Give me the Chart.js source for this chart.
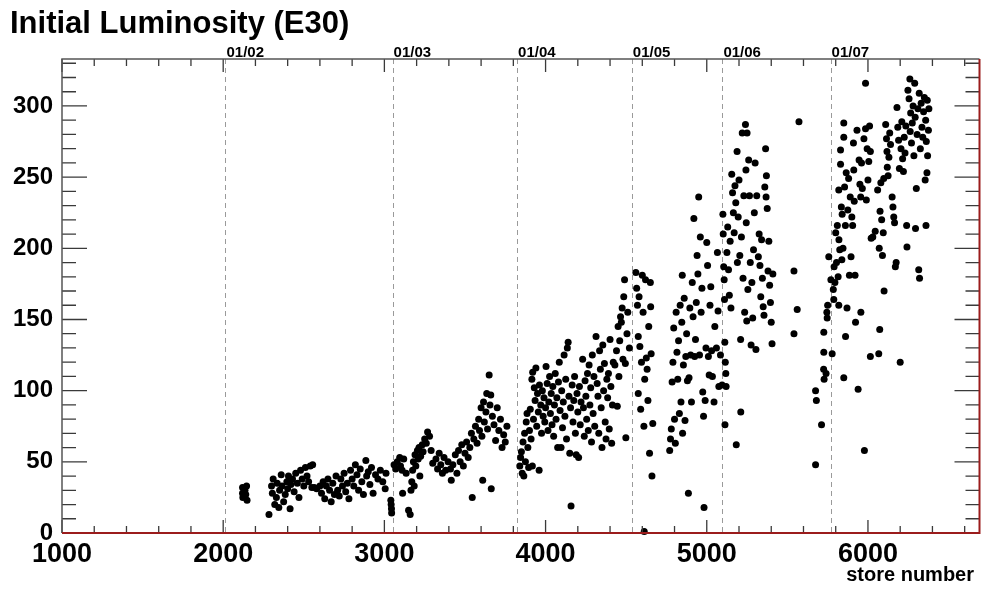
<!DOCTYPE html>
<html>
<head>
<meta charset="utf-8">
<script src="https://cdn.jsdelivr.net/npm/chart.js@4/dist/chart.umd.min.js"></script>
<style>
  html, body { margin: 0; padding: 0; background: #fff; }
  canvas { display: block; }
</style>
</head>
<body>
<canvas id="lumChart" width="983" height="590"></canvas>
<script>
// store number / initial luminosity pairs, grouped by period
const run2002 = [
  [2120,32],[2120,28],[2122,25],[2135,30],[2140,27],[2145,33],[2148,23],[2130,31],
  [2284,13],[2300,33],[2305,28],[2310,38],[2320,20],[2330,25],[2335,35],[2345,18],[2350,30],[2360,41],
  [2365,33],[2375,22],[2385,27],[2395,36],[2400,31],[2405,40],[2415,17],[2420,34],[2430,38],[2440,29],
  [2450,42],[2460,35],[2470,25],[2480,44],[2490,38],[2500,33],[2510,46],[2520,40],[2530,36],[2540,47],
  [2550,32],[2555,48],[2565,32],[2580,31],[2600,33],[2610,28],[2620,36],[2630,24],[2640,33],[2650,38],
  [2660,30],[2670,22],[2680,35],[2690,27],[2700,40],[2710,30],[2720,26],[2730,38],[2740,33],[2750,42],
  [2760,29],[2770,35],[2780,24],[2790,44],[2800,38],[2810,33],[2820,48],[2830,41],[2840,30],[2850,45],
  [2860,36],[2870,27],[2885,51],[2890,40],[2900,43],[2910,34],[2920,46],[2930,28],[2945,41],[2960,38],
  [2975,44],[2990,36],[3005,31],[3010,42],[3040,23],[3042,20],[3044,17],[3045,14]
];
const run2003 = [
  [3060,48],[3070,45],[3080,50],[3095,53],[3100,47],[3110,44],[3113,28],[3120,52],[3135,42],[3150,16],
  [3160,13],[3165,30],[3170,36],[3175,44],[3180,50],[3185,33],[3190,55],[3195,47],[3205,58],[3210,52],
  [3215,60],[3220,40],[3225,54],[3235,62],[3240,57],[3250,66],[3260,63],[3268,71],[3280,68],[3290,58],
  [3300,49],[3320,52],[3330,45],[3340,56],[3350,48],[3360,42],[3370,53],[3380,44],[3395,50],[3410,45],
  [3415,37],[3425,48],[3440,55],[3450,42],[3460,58],[3470,50],[3480,62],[3490,47],[3500,56],[3510,64],
  [3520,53],[3530,60],[3540,70],[3545,25],[3555,66],[3565,75],[3575,63],[3585,80],[3590,72],[3600,88],
  [3605,68],[3610,37],[3615,92],[3620,78],[3630,85],[3635,98],[3640,73],[3650,111],[3655,90],[3660,97],
  [3663,31],[3670,82],[3680,76],[3690,65],[3700,88],[3710,72],[3720,80],[3730,60],[3740,69],[3750,64],
  [3760,75]
];
const run2004 = [
  [3840,47],[3845,53],[3850,57],[3855,42],[3860,64],[3865,40],[3870,70],[3875,50],[3880,78],[3885,84],
  [3890,60],[3895,46],[3900,72],[3905,87],[3910,66],[3915,108],[3918,47],[3920,113],[3925,80],[3930,102],
  [3935,93],[3940,116],[3945,75],[3950,98],[3955,85],[3960,44],[3962,104],[3970,90],[3975,70],[3980,100],
  [3985,82],[3990,95],[3995,78],[4000,88],[4003,117],[4010,105],[4015,72],[4020,92],[4025,110],[4030,84],
  [4035,98],[4040,76],[4045,103],[4050,68],[4055,90],[4060,112],[4065,80],[4070,95],[4075,60],[4080,106],
  [4085,120],[4090,86],[4096,60],[4100,100],[4105,74],[4110,92],[4115,125],[4120,82],[4125,108],[4130,66],
  [4135,130],[4140,134],[4145,96],[4150,56],[4155,88],[4158,19],[4165,104],[4170,78],[4175,93],[4180,110],
  [4185,70],[4190,55],[4195,98],[4200,85],[4205,53],[4210,103],[4215,76],[4220,92],[4230,122],[4235,88],
  [4240,68],[4245,107],[4250,96],[4255,80],[4260,112],[4265,72],[4270,118],[4275,90],[4280,102],[4285,64],
  [4290,125],[4295,84],[4300,110],[4305,75],[4313,138],[4320,105],[4325,96],[4330,70],[4335,128],[4340,115],
  [4345,88],[4350,60],[4355,132],[4360,100],[4365,119],[4370,78],[4375,66],[4380,108],[4385,95],[4390,112],
  [4395,73],[4400,136],[4405,103],[4410,63],[4415,90],[4420,120],[4430,118],[4440,128],[4445,89],[4450,145],
  [4455,110],[4460,135],[4465,152],[4470,148],[4475,158],[4480,122],[4485,166],[4490,178],[4495,119],[4498,67],
  [4505,140],[4510,155],[4520,130]
];
const run2005 = [
  [4560,183],[4565,172],[4570,160],[4575,138],[4575,98],[4580,166],[4585,131],[4590,87],[4595,120],[4600,181],
  [4605,155],[4610,75],[4612,1],[4615,108],[4620,178],[4625,123],[4630,115],[4635,93],[4640,145],[4645,56],
  [4650,176],[4652,159],[4655,126],[4660,40],[4665,77],
  [4770,58],[4775,66],[4780,73],[4785,106],[4790,120],[4795,144],[4800,80],[4805,63],[4810,155],[4815,127],
  [4820,108],[4825,135],[4830,84],[4835,160],[4840,92],[4845,148],[4848,181],[4850,70],[4855,118],[4860,165],
  [4865,79],[4870,124],[4875,140],[4880,107],[4886,28],[4890,109],[4895,158],[4900,125],[4905,92],[4910,176],
  [4915,152],[4920,221],[4925,124],[4930,136],[4935,162],[4940,195],[4945,182],[4950,236],[4955,125],[4960,208],
  [4965,155],[4970,172],[4975,99],[4980,82],[4983,18],[4990,93],[4995,130],[5000,204],[5005,188],[5010,124],
  [5015,111],[5020,160],[5025,173],[5030,128],[5035,110],[5045,92],[5050,145],[5060,130],[5066,197],[5070,156],
  [5075,103],[5085,125],[5095,104]
];
const run2006 = [
  [5100,224],[5102,210],[5105,187],[5108,178],[5110,164],[5112,134],[5115,120],[5118,112],[5120,103],[5113,76],
  [5125,197],[5130,215],[5135,185],[5140,167],[5145,205],[5150,158],[5155,252],[5160,239],[5165,225],[5170,211],
  [5175,244],[5180,232],[5183,62],[5188,268],[5190,190],[5195,222],[5200,248],[5205,195],[5210,136],[5211,85],
  [5215,208],[5220,281],[5225,179],[5230,237],[5235,155],[5240,287],[5243,255],[5245,218],[5248,149],[5250,281],
  [5255,171],[5260,262],[5265,237],[5270,190],[5275,132],[5280,176],[5285,151],[5290,199],[5295,225],[5300,260],
  [5305,129],[5310,237],[5320,194],[5325,210],[5330,188],[5335,166],[5340,206],[5345,179],[5350,159],[5355,153],
  [5360,243],[5365,270],[5368,236],[5370,251],[5375,228],[5380,184],[5385,205],[5390,174],[5395,162],[5400,148],
  [5405,133],[5410,182],[5541,184],[5561,157],[5541,140],[5572,289]
];
const run2007 = [
  [5675,48],[5675,100],[5680,93],[5712,76],[5726,141],[5726,127],[5725,115],[5728,108],[5740,112],[5745,155],
  [5747,151],[5750,160],[5757,194],[5770,178],[5778,126],[5785,171],[5788,164],[5790,187],[5795,176],[5800,211],
  [5805,190],[5810,216],[5815,180],[5819,160],[5819,241],[5820,206],[5825,199],[5830,269],[5830,259],[5835,229],
  [5838,192],[5840,224],[5845,200],[5850,288],[5850,278],[5850,109],[5855,243],[5860,216],[5861,138],[5865,253],
  [5870,158],[5875,227],[5880,249],[5885,181],[5890,236],[5895,194],[5900,222],[5905,216],[5910,274],[5912,255],
  [5915,233],[5920,181],[5923,148],[5932,283],[5939,101],[5945,262],[5950,245],[5955,236],[5956,155],[5960,260],
  [5965,242],[5975,277],[5978,58],[5985,316],[5985,284],[5990,234],[5995,270],[6000,248],[6005,261],[6010,286],
  [6015,124],[6015,268],[6020,207],[6030,208],[6045,212],[6060,241],[6067,126],[6070,200],[6073,143],[6075,226],
  [6080,246],[6085,220],[6090,195],[6095,211],[6098,249],[6100,170],[6110,287],[6115,277],[6118,268],[6120,257],
  [6125,251],[6130,264],[6135,281],[6140,273],[6150,236],[6155,229],[6160,222],[6165,218],[6170,187],[6175,190],
  [6180,299],[6185,285],[6190,276],[6195,256],[6200,120],[6205,270],[6210,289],[6215,263],[6220,254],[6225,278],
  [6230,267],[6235,286],[6240,216],[6242,201],[6248,311],[6255,305],[6260,319],[6262,282],[6265,295],[6270,274],
  [6275,288],[6280,300],[6285,265],[6290,316],[6293,292],[6295,214],[6300,242],[6305,280],[6310,298],[6315,185],
  [6318,309],[6320,179],[6325,270],[6330,302],[6335,285],[6340,278],[6345,296],[6350,306],[6355,248],[6358,290],
  [6360,216],[6362,275],[6366,253],[6368,304],[6370,265],[6375,283],[6378,298]
];

// first store of each new year, and its label
const yearStarts = [2014, 3051, 3823, 4535, 5097, 5768];
const yearLabels = ['01/02', '01/03', '01/04', '01/05', '01/06', '01/07'];

// labelled ticks
const xTicks = [1000, 2000, 3000, 4000, 5000, 6000];
const yTicks = [0, 50, 100, 150, 200, 250, 300];

const xMin = 1000, xMax = 6692;
const yMin = 0, yMax = 333;

const runs = [run2002, run2003, run2004, run2005, run2006, run2007];

// ROOT-like frame, inward ticks, year markers and texts
const rootFrame = {
    id: 'rootFrame',
    beforeDraw(chart) {
        const ctx = chart.ctx;
        ctx.save();
        ctx.fillStyle = '#ffffff';
        ctx.fillRect(0, 0, chart.width, chart.height);
        ctx.restore();
    },
    beforeDatasetsDraw(chart) {
        const { ctx, chartArea: a, scales: { x } } = chart;
        ctx.save();
        ctx.strokeStyle = '#9a9a9a';
        ctx.lineWidth = 1;
        ctx.setLineDash([5, 4]);
        yearStarts.forEach(s => {
            const px = Math.round(x.getPixelForValue(s)) + 0.5;
            ctx.beginPath();
            ctx.moveTo(px, a.top);
            ctx.lineTo(px, a.bottom);
            ctx.stroke();
        });
        ctx.restore();
    },
    afterDatasetsDraw(chart) {
        const { ctx, chartArea: a, scales: { x, y } } = chart;
        ctx.save();
        ctx.strokeStyle = '#3a3a3a';
        ctx.lineWidth = 1.3;
        ctx.beginPath();
        for (let v = 1000; v <= 6600; v += 200) {
            const px = x.getPixelForValue(v);
            const len = v % 1000 === 0 ? 13 : 7;
            ctx.moveTo(px, a.bottom);
            ctx.lineTo(px, a.bottom - len);
            ctx.moveTo(px, a.top);
            ctx.lineTo(px, a.top + len);
        }
        for (let v = 0; v <= 330; v += 10) {
            const py = y.getPixelForValue(v);
            const len = v % 50 === 0 ? 25 : 14;
            ctx.moveTo(a.left, py);
            ctx.lineTo(a.left + len, py);
            ctx.moveTo(a.right, py);
            ctx.lineTo(a.right - len, py);
        }
        ctx.stroke();

        // frame
        ctx.lineWidth = 1.5;
        ctx.strokeStyle = '#555555';
        ctx.beginPath();
        ctx.moveTo(a.left, a.bottom);
        ctx.lineTo(a.left, a.top);
        ctx.lineTo(a.right, a.top);
        ctx.stroke();
        ctx.lineWidth = 2;
        ctx.strokeStyle = '#9b1c1c';
        ctx.beginPath();
        ctx.moveTo(a.left, a.bottom);
        ctx.lineTo(a.right, a.bottom);
        ctx.lineTo(a.right, a.top);
        ctx.stroke();
        ctx.restore();
    },
    afterDraw(chart) {
        const { ctx, chartArea: a, scales: { x } } = chart;
        ctx.save();
        ctx.fillStyle = '#000';
        ctx.textBaseline = 'alphabetic';

        ctx.font = 'bold 31px "Liberation Sans", Arial, sans-serif';
        ctx.textAlign = 'left';
        ctx.fillText('Initial Luminosity (E30)', 10, 33);

        ctx.font = 'bold 15px "Liberation Sans", Arial, sans-serif';
        yearStarts.forEach((s, i) => {
            ctx.fillText(yearLabels[i], x.getPixelForValue(s) + 1, a.top - 2);
        });

        ctx.font = 'bold 20px "Liberation Sans", Arial, sans-serif';
        ctx.textAlign = 'right';
        ctx.fillText('store number', 974, 581);
        ctx.restore();
    }
};

new Chart(document.getElementById('lumChart'), {
    type: 'scatter',
    data: {
        datasets: runs.map(r => ({
            data: r.map(p => ({ x: p[0], y: p[1] })),
            backgroundColor: '#000000',
            borderWidth: 0,
            pointRadius: 3.5,
            pointHoverRadius: 3.5,
            clip: 6
        }))
    },
    options: {
        responsive: false,
        animation: false,
        events: [],
        layout: { padding: { top: 59, right: 2, left: 0, bottom: 0 } },
        plugins: {
            legend: { display: false },
            title: { display: false },
            tooltip: { enabled: false }
        },
        scales: {
            x: {
                type: 'linear',
                min: xMin,
                max: xMax,
                border: { display: false },
                grid: { display: false, drawTicks: false },
                ticks: {
                    autoSkip: false,
                    maxRotation: 0,
                    padding: 5,
                    color: '#000',
                    font: { family: '"Liberation Sans", Arial, sans-serif', size: 27, weight: 'bold' },
                    callback: v => String(v)
                },
                afterBuildTicks(scale) {
                    scale.ticks = xTicks.map(v => ({ value: v }));
                },
                afterFit(scale) { scale.height = 57; }
            },
            y: {
                min: yMin,
                max: yMax,
                border: { display: false },
                grid: { display: false, drawTicks: false },
                ticks: {
                    autoSkip: false,
                    padding: 9,
                    color: '#000',
                    font: { family: '"Liberation Sans", Arial, sans-serif', size: 24, weight: 'bold' },
                    callback: v => String(v)
                },
                afterBuildTicks(scale) {
                    scale.ticks = yTicks.map(v => ({ value: v }));
                },
                afterFit(scale) { scale.width = 62; }
            }
        }
    },
    plugins: [rootFrame]
});
</script>
</body>
</html>
